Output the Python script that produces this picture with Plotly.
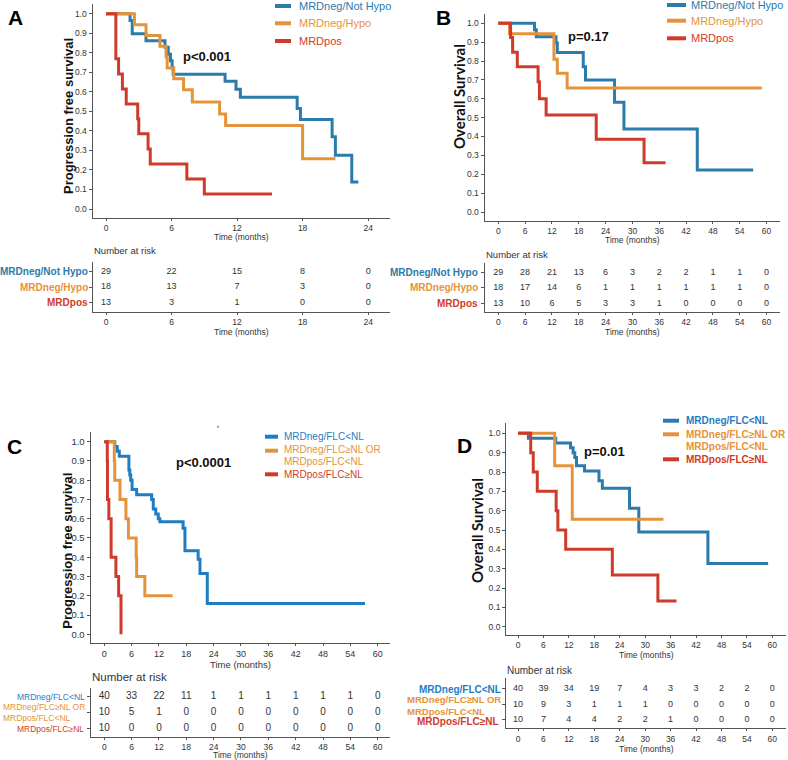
import plotly.graph_objects as go

# ---------------- DATA ----------------
# Panel A (PFS) – step times (months) and survival after each step
A_notHypo_t = [2.2, 2.4, 3.66, 5.4, 5.7, 5.9, 6.05, 6.15, 10.9, 11.9, 12.3, 17.5, 17.8, 20.7, 21.0, 22.5]
A_notHypo_s = [0.966, 0.897, 0.862, 0.828, 0.793, 0.759, 0.724, 0.690, 0.655, 0.614, 0.572, 0.515, 0.459, 0.37, 0.276, 0.138]
A_notHypo_end = 23.1
A_hypo_t = [2.6, 3.66, 4.94, 5.5, 5.6, 6.2, 7.1, 7.9, 10.4, 10.95, 18.0]
A_hypo_s = [0.944, 0.889, 0.833, 0.778, 0.722, 0.667, 0.611, 0.548, 0.487, 0.428, 0.257]
A_hypo_end = 21.0
A_pos_t = [0.9, 1.15, 1.5, 1.85, 2.9, 3.0, 3.85, 4.05, 7.4, 9.0]
A_pos_s = [0.769, 0.692, 0.615, 0.538, 0.462, 0.385, 0.308, 0.231, 0.154, 0.077]
A_pos_end = 15.2

# Panel B (OS)
B_notHypo_t = [8.1, 8.5, 12.9, 13.2, 19.0, 19.5, 26.0, 28.1, 44.5]
B_notHypo_s = [0.965, 0.929, 0.895, 0.845, 0.77, 0.70, 0.581, 0.44, 0.223]
B_notHypo_end = 57.0
B_hypo_t = [2.5, 12.45, 13.2, 15.4]
B_hypo_s = [0.944, 0.809, 0.735, 0.657]
B_hypo_end = 58.9
B_pos_t = [2.75, 3.2, 4.25, 8.9, 9.2, 10.7, 21.9, 32.6]
B_pos_s = [0.924, 0.846, 0.77, 0.69, 0.60, 0.514, 0.385, 0.261]
B_pos_end = 37.4

# Panel C (PFS)
C_lt_t = [2.3, 2.85, 3.3, 5.4, 5.6, 5.8, 6.1, 7.1, 10.4, 10.75, 11.3, 11.85, 12.2, 17.3, 17.7, 20.6, 21.0, 22.6]
C_lt_s = [0.975, 0.95, 0.925, 0.853, 0.827, 0.80, 0.752, 0.725, 0.70, 0.65, 0.625, 0.60, 0.584, 0.55, 0.434, 0.39, 0.316, 0.16]
C_lt_end = 57.2
C_mid_t = [2.2, 2.3, 3.45, 4.75, 5.3, 7.0, 7.1, 8.9]
C_mid_s = [0.9, 0.8, 0.7, 0.6, 0.5, 0.4, 0.3, 0.2]
C_mid_end = 15.0
C_pos_t = [0.66, 0.7, 1.0, 1.5, 2.55, 3.15, 3.67]
C_pos_s = [0.9, 0.7, 0.6, 0.4, 0.3, 0.2, 0.0]
C_pos_end = 3.67

# Panel D (OS)
D_lt_t = [2.45, 8.9, 12.4, 13.0, 13.4, 13.8, 15.7, 19.1, 19.9, 26.3, 28.5, 44.8]
D_lt_s = [0.975, 0.95, 0.925, 0.90, 0.875, 0.833, 0.805, 0.755, 0.716, 0.612, 0.49, 0.327]
D_lt_end = 59.0
D_mid_t = [8.65, 12.8]
D_mid_s = [0.833, 0.556]
D_mid_end = 34.3
D_pos_t = [3.0, 3.6, 4.55, 9.0, 9.4, 11.25, 22.25, 33.0]
D_pos_s = [0.9, 0.8, 0.7, 0.6, 0.5, 0.4, 0.267, 0.133]
D_pos_end = 37.4

# Risk tables
A_times = [0, 6, 12, 18, 24]
A_risk_notHypo = [29, 22, 15, 8, 0]
A_risk_hypo = [18, 13, 7, 3, 0]
A_risk_pos = [13, 3, 1, 0, 0]

L_times = [0, 6, 12, 18, 24, 30, 36, 42, 48, 54, 60]
B_risk_notHypo = [29, 28, 21, 13, 6, 3, 2, 2, 1, 1, 0]
B_risk_hypo = [18, 17, 14, 6, 1, 1, 1, 1, 1, 1, 0]
B_risk_pos = [13, 10, 6, 5, 3, 3, 1, 0, 0, 0, 0]
C_risk_lt = [40, 33, 22, 11, 1, 1, 1, 1, 1, 1, 0]
C_risk_mid = [10, 5, 1, 0, 0, 0, 0, 0, 0, 0, 0]
C_risk_pos = [10, 0, 0, 0, 0, 0, 0, 0, 0, 0, 0]
D_risk_lt = [40, 39, 34, 19, 7, 4, 3, 3, 2, 2, 0]
D_risk_mid = [10, 9, 3, 1, 1, 1, 0, 0, 0, 0, 0]
D_risk_pos = [10, 7, 4, 4, 2, 2, 1, 0, 0, 0, 0]

Y_ticks = [0.0, 0.1, 0.2, 0.3, 0.4, 0.5, 0.6, 0.7, 0.8, 0.9, 1.0]

# ---------------- STYLE ----------------
W, H = 788, 760
BLUE = "#2b7bab"
BLUE_C = "#1f7dc4"
ORANGE = "#e5933b"
RED = "#cf3b2a"
AX = "#555555"
TXT = "#333333"
FONT = "Liberation Sans, Arial, sans-serif"


def fx(p):
    return p / W


def fy(p):
    return 1 - p / H


fig = go.Figure()
layout = {}
annotations = []
shapes = []


def sfx(n):
    return "" if n == 1 else str(n)


def set_axes(n, xpx, ypx, xr, yr, xtickvals, ytickvals, yticktext, tickfs, xtickfs=None):
    s = sfx(n)
    layout["xaxis" + s] = dict(
        domain=[fx(xpx[0]), fx(xpx[1])], range=xr, anchor="y" + s,
        showline=True, linecolor=AX, linewidth=1.3, ticks="outside", ticklen=2,
        tickcolor=AX, tickvals=xtickvals, tickfont=dict(size=xtickfs or tickfs, color=TXT),
        showgrid=False, zeroline=False, fixedrange=True)
    layout["yaxis" + s] = dict(
        domain=[fy(ypx[1]), fy(ypx[0])], range=yr, anchor="x" + s,
        showline=True, linecolor=AX, linewidth=1.3, ticks="outside", ticklen=3,
        tickcolor=AX, tickvals=ytickvals, ticktext=yticktext,
        showticklabels=yticktext is not None,
        tickfont=dict(size=tickfs, color=TXT),
        showgrid=False, zeroline=False, fixedrange=True)


def add_km(n, t, s, end, color):
    x = [0] + list(t) + [end]
    y = [1.0] + list(s) + [s[-1]]
    fig.add_trace(go.Scatter(x=x, y=y, mode="lines",
                             line=dict(color=color, width=3, shape="hv"),
                             xaxis="x" + sfx(n), yaxis="y" + sfx(n),
                             showlegend=False, hoverinfo="skip"))


def add_risk(n, times, rows, fs):
    for row, vals in zip([3, 2, 1], rows):
        fig.add_trace(go.Scatter(x=times, y=[row] * len(times), mode="text",
                                 text=[str(v) for v in vals],
                                 textfont=dict(size=fs, color=TXT, family=FONT),
                                 xaxis="x" + sfx(n), yaxis="y" + sfx(n),
                                 showlegend=False, hoverinfo="skip"))


def ann(x, y, text, size, color=TXT, bold=False, xanchor="center", family=FONT, angle=0, align="center"):
    if bold:
        text = "<b>" + text + "</b>"
    annotations.append(dict(x=fx(x), y=fy(y), xref="paper", yref="paper", text=text,
                            showarrow=False, xanchor=xanchor, yanchor="middle",
                            font=dict(size=size, color=color, family=family),
                            textangle=angle, align=align, borderpad=0))


def seg(x0, x1, y, color):
    shapes.append(dict(type="line", xref="paper", yref="paper", x0=fx(x0), x1=fx(x1),
                       y0=fy(y), y1=fy(y), line=dict(color=color, width=4)))


ytt = ["%.1f" % v for v in Y_ticks]

# ---------- Panel A ----------
set_axes(1, (92.7, 390), (4, 218), [-1.22, 26], [-0.046, 1.05], A_times, Y_ticks, ytt, 8.5)
set_axes(2, (92.7, 390), (261.7, 312), [-1.22, 26], [0.4, 3.65], A_times, [1, 2, 3], None, 8.5)
add_km(1, A_notHypo_t, A_notHypo_s, A_notHypo_end, BLUE)
add_km(1, A_hypo_t, A_hypo_s, A_hypo_end, ORANGE)
add_km(1, A_pos_t, A_pos_s, A_pos_end, RED)
add_risk(2, A_times, [A_risk_notHypo, A_risk_hypo, A_risk_pos], 9)
ann(16, 18, "A", 21, "#000", True)
ann(68, 116, "Progression free survival", 13, "#111", True, angle=-90)
ann(207, 57, "p&lt;0.001", 13, "#111", True)
ann(241, 237, "Time (months)", 8.5)
ann(241, 331.5, "Time (months)", 8.5)
ann(92.7, 251, "Number at risk", 9.5, xanchor="left")
ann(89, 271.7, "MRDneg/Not Hypo", 10, BLUE, True, xanchor="right")
ann(89, 287.3, "MRDneg/Hypo", 10, ORANGE, True, xanchor="right")
ann(89, 302.7, "MRDpos", 10, RED, True, xanchor="right")
for y, t, c in [(6, "MRDneg/Not Hypo", BLUE), (23.3, "MRDneg/Hypo", ORANGE), (41, "MRDpos", RED)]:
    seg(275, 291, y, c)
    ann(298, y, t, 11, c, xanchor="left")

# ---------- Panel B ----------
set_axes(3, (484.7, 780), (14, 220.7), [-3.04, 63], [-0.046, 1.049], L_times, Y_ticks, ytt, 8.5)
set_axes(4, (484.7, 780), (263, 312), [-3.04, 63], [0.43, 3.63], L_times, [1, 2, 3], None, 8.5)
add_km(3, B_notHypo_t, B_notHypo_s, B_notHypo_end, BLUE)
add_km(3, B_hypo_t, B_hypo_s, B_hypo_end, ORANGE)
add_km(3, B_pos_t, B_pos_s, B_pos_end, RED)
add_risk(4, L_times, [B_risk_notHypo, B_risk_hypo, B_risk_pos], 9)
ann(443, 17, "B", 21, "#000", True)
ann(459, 97, "Overall Survival", 15, "#111", True, family="Lato, sans-serif", angle=-90)
ann(588, 37, "p=0.17", 13, "#111", True)
ann(632, 240, "Time (months)", 8.5)
ann(632, 331.5, "Time (months)", 8.5)
ann(484.7, 254, "Number at risk", 9.5, xanchor="left")
ann(479, 272.7, "MRDneg/Not Hypo", 10, BLUE, True, xanchor="right")
ann(479, 287.7, "MRDneg/Hypo", 10, ORANGE, True, xanchor="right")
ann(479, 303.3, "MRDpos", 10, RED, True, xanchor="right")
for y, t, c in [(5, "MRDneg/Not Hypo", BLUE), (20.7, "MRDneg/Hypo", ORANGE), (38.3, "MRDpos", RED)]:
    seg(667, 686, y, c)
    ann(690, y, t, 11, c, xanchor="left")

# ---------- Panel C ----------
set_axes(5, (90.7, 390), (431.7, 643.3), [-2.98, 62.7], [-0.047, 1.052], L_times, Y_ticks, ytt, 9.5, 9)
set_axes(6, (90.7, 390), (688, 736.7), [-2.98, 62.7], [0.47, 3.55], L_times, [1, 2, 3], None, 8.5)
add_km(5, C_lt_t, C_lt_s, C_lt_end, BLUE_C)
add_km(5, C_mid_t, C_mid_s, C_mid_end, ORANGE)
add_km(5, C_pos_t, C_pos_s, C_pos_end, RED)
add_risk(6, L_times, [C_risk_lt, C_risk_mid, C_risk_pos], 10)
ann(14, 446, "C", 21, "#000", True)
ann(66.7, 551, "Progression free survival", 13, "#111", True, angle=-90)
ann(203, 462.7, "p&lt;0.0001", 13, "#111", True)
ann(240, 664, "Time (months)", 9.5)
ann(240, 754.5, "Time (months)", 8.5)
ann(90.7, 677.3, "Number at risk", 11.5, xanchor="left")
ann(86, 696.7, "MRDneg/FLC&lt;NL", 8.5, BLUE_C, xanchor="right")
ann(86, 712.5, "MRDneg/FLC≥NL OR<br>MRDpos/FLC&lt;NL", 8.5, ORANGE, xanchor="right", align="left")
ann(85, 728.8, "MRDpos/FLC≥NL", 8.5, RED, xanchor="right")
seg(265, 278, 436.7, BLUE_C)
ann(282.7, 436.7, "MRDneg/FLC&lt;NL", 10, BLUE_C, xanchor="left")
seg(265, 278, 450.7, ORANGE)
ann(282.7, 450, "MRDneg/FLC≥NL OR", 10, ORANGE, xanchor="left")
ann(282.7, 461, "MRDpos/FLC&lt;NL", 10, ORANGE, xanchor="left")
seg(265, 278, 474.3, RED)
ann(282.7, 474.3, "MRDpos/FLC≥NL", 10, RED, xanchor="left")
shapes.append(dict(type="rect", xref="paper", yref="paper", x0=fx(217), x1=fx(219),
                   y0=fy(427.7), y1=fy(425.7), line=dict(width=0), fillcolor=ORANGE))

# ---------- Panel D ----------
set_axes(7, (506.3, 785.7), (423.3, 635), [-2.76, 63.15], [-0.043, 1.052], L_times, Y_ticks, ytt, 8.5)
set_axes(8, (506.3, 785.7), (678, 728.3), [-2.76, 63.15], [0.46, 3.71], L_times, [1, 2, 3], None, 8.5)
add_km(7, D_lt_t, D_lt_s, D_lt_end, BLUE)
add_km(7, D_mid_t, D_mid_s, D_mid_end, ORANGE)
add_km(7, D_pos_t, D_pos_s, D_pos_end, RED)
add_risk(8, L_times, [D_risk_lt, D_risk_mid, D_risk_pos], 9)
ann(464, 445, "D", 21, "#000", True)
ann(477, 530, "Overall Survival", 15, "#111", True, family="Lato, sans-serif", angle=-90)
ann(604, 451.7, "p=0.01", 13, "#111", True)
ann(646, 655, "Time (months)", 8.5)
ann(646, 748.5, "Time (months)", 8.5)
ann(506.3, 670, "Number at risk", 10, xanchor="left")
ann(502, 689, "MRDneg/FLC&lt;NL", 10, BLUE_C, True, xanchor="right")
ann(502, 705.8, "MRDneg/FLC≥NL OR<br>MRDpos/FLC&lt;NL", 9.5, ORANGE, True, xanchor="right", align="left")
ann(500, 721, "MRDpos/FLC≥NL", 10, RED, True, xanchor="right")
seg(663, 679, 420.7, BLUE)
ann(685, 420.7, "MRDneg/FLC&lt;NL", 10, BLUE_C, True, xanchor="left")
seg(663, 679, 434.3, ORANGE)
ann(685, 434.3, "MRDneg/FLC≥NL OR", 10, ORANGE, True, xanchor="left")
ann(685, 446, "MRDpos/FLC&lt;NL", 10, ORANGE, True, xanchor="left")
seg(663, 679, 459.3, RED)
ann(685, 459.3, "MRDpos/FLC≥NL", 10, RED, True, xanchor="left")

fig.update_layout(
    width=W, height=H, autosize=False,
    margin=dict(l=0, r=0, t=0, b=0, pad=0),
    paper_bgcolor="white", plot_bgcolor="white",
    font=dict(family=FONT, color=TXT),
    showlegend=False,
    annotations=annotations, shapes=shapes,
    **layout,
)

fig.write_html("out.html", config={"displayModeBar": False},
               post_script="document.body.style.margin='0';document.body.style.overflow='hidden';")
